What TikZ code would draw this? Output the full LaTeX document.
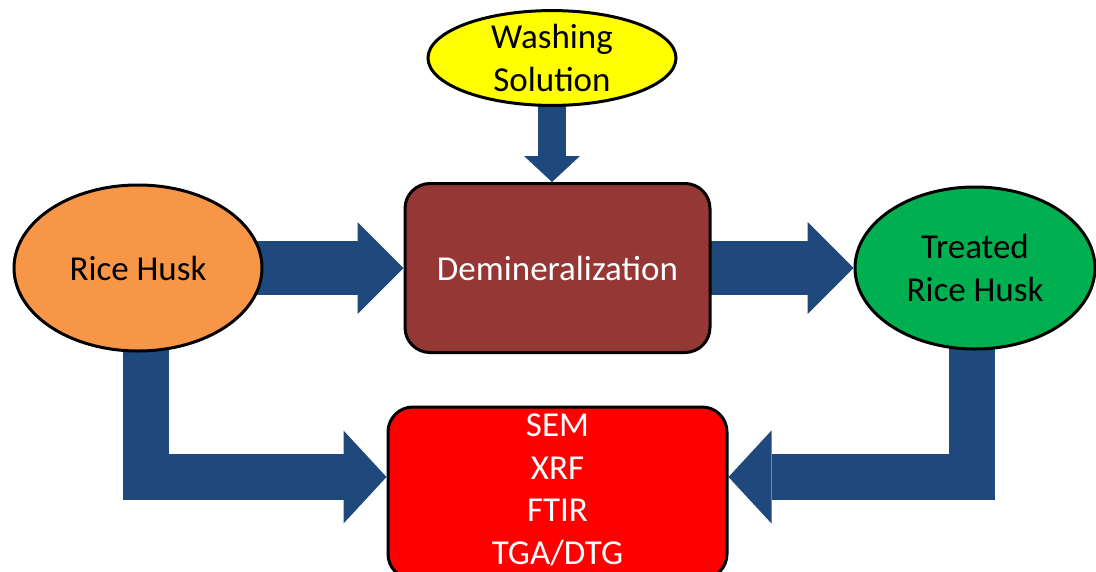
\documentclass[tikz,border=0pt]{standalone}
\usepackage{fontspec}
\setmainfont{Carlito}
\usetikzlibrary{shapes.geometric,arrows.meta,calc}
\pgfdeclarelayer{background}
\pgfsetlayers{background,main}
\definecolor{arrowblue}{HTML}{1F497D}
\definecolor{huskorange}{HTML}{F79646}
\definecolor{demibrown}{HTML}{953735}
\definecolor{treatgreen}{HTML}{00B050}
\definecolor{washyellow}{HTML}{FFFF00}
\definecolor{anared}{HTML}{FF0000}
\begin{document}
\begin{tikzpicture}[x=1pt,y=-1pt,
  lbl/.style={font=\fontsize{35}{42.5}\selectfont, align=center},
  oval/.style={ellipse, draw=black, line width=3pt, inner sep=0pt, lbl},
  box/.style={rectangle, rounded corners=25pt, draw=black, line width=3pt, inner sep=0pt, lbl},
  bigflow/.style={draw=arrowblue, line width=54pt, -{Triangle[width=92pt,length=46pt,line width=0pt]}},
  sideflow/.style={draw=arrowblue, line width=46pt, line join=miter, -{Triangle[width=93pt,length=43pt,line width=0pt]}},
  topflow/.style={draw=arrowblue, line width=28pt, -{Triangle[width=56pt,length=26pt,line width=0pt]}}]
\useasboundingbox (0,0) rectangle (1096,571);
\node[oval, fill=washyellow, minimum width=248pt, minimum height=92pt] (ws) at (552,58) {Washing\\Solution};
\node[box, fill=demibrown, text=white, minimum width=305pt, minimum height=169pt] (dem) at (557.5,268) {Demineralization};
\node[oval, fill=huskorange, minimum width=248pt, minimum height=166pt] (rh) at (138,268) {Rice Husk};
\node[oval, fill=treatgreen, minimum width=240pt, minimum height=162pt] (trh) at (975,268) {Treated\\Rice Husk};
\node[box, fill=anared, minimum width=339pt, minimum height=172pt] (ana) at (557.5,493) {};
\node[lbl, text=white, inner sep=0pt] (anatxt) at ([yshift=3pt]ana.center) {SEM\\XRF\\FTIR\\TGA/DTG};
\begin{pgfonlayer}{background}
\draw[topflow] (ws.center) -- (ws.center |- dem.north);
\draw[bigflow] (rh.center) -- (dem.west);
\draw[bigflow] (dem.center) -- (trh.west);
\draw[sideflow] ([xshift=8pt]rh.center) |- ([yshift=16pt]ana.west);
\draw[sideflow] ([xshift=-3pt]trh.center) |- ([yshift=16pt]ana.east);
\end{pgfonlayer}
\end{tikzpicture}
\end{document}
